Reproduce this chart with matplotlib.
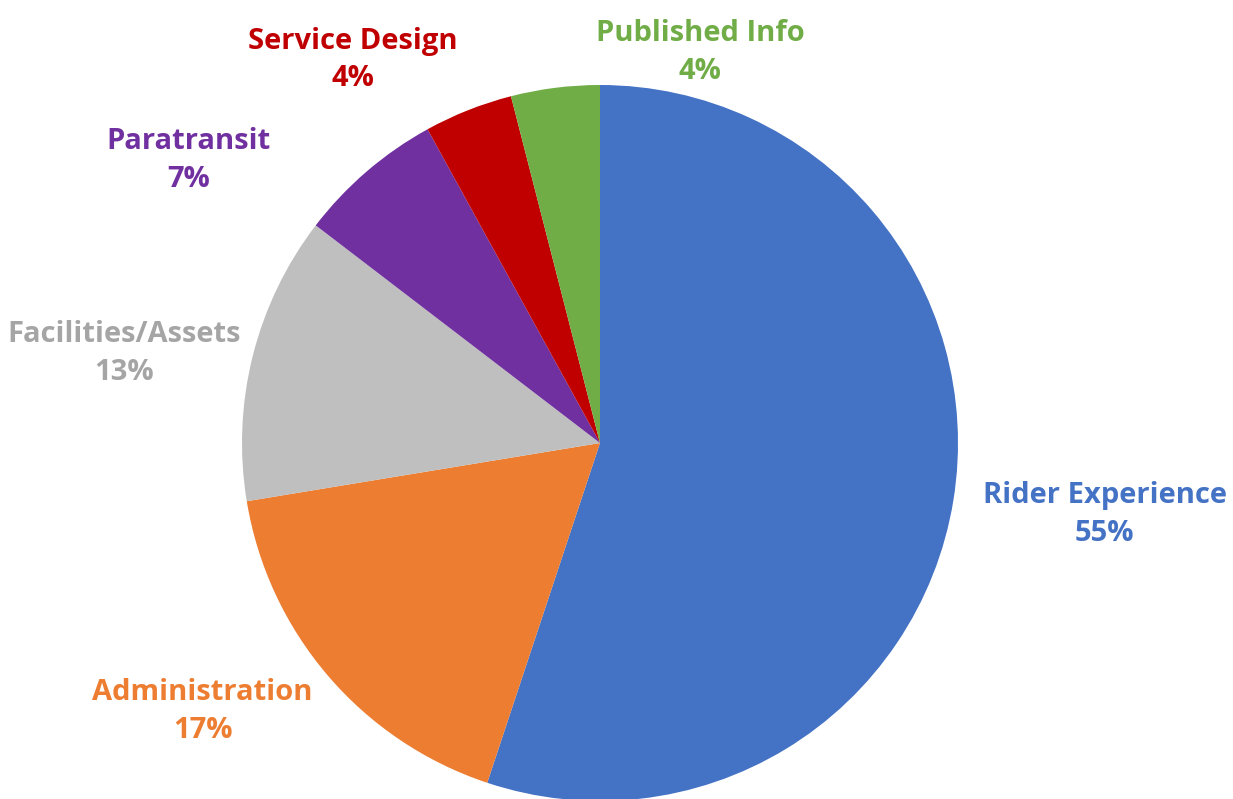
import matplotlib.pyplot as plt
import numpy as np

#-----------------------------
categories = ['Rider Experience', 'Administration', 'Facilities/Assets',
              'Paratransit', 'Service Design', 'Published Info']
shares = [55.1, 17.3, 13.0, 6.6, 4.0, 4.0]
pct_labels = ['55%', '17%', '13%', '7%', '4%', '4%']

slice_colors = ['#4472C4', '#ED7D31', '#BFBFBF', '#7030A0', '#C00000', '#70AD47']
text_colors = ['#4472C4', '#ED7D31', '#A5A5A5', '#7030A0', '#C00000', '#70AD47']
# label centres in pie-radius units (style, not data)
label_pos = [(1.41, -0.20), (-1.11, -0.75), (-1.33, 0.25),
             (-1.15, 0.79), (-0.69, 1.07), (0.28, 1.09)]
myfontsize = 21
#-----------------------------


def draw_chart():
    fig = plt.figure(figsize=(12.33, 7.99), dpi=100)
    ax = fig.add_axes([0, 0, 1, 1])

    ax.pie(shares, colors=slice_colors, startangle=90, counterclock=False,
           radius=1.0, center=(0, 0), wedgeprops=dict(linewidth=0))

    for name, pct, col, (x, y) in zip(categories, pct_labels, text_colors, label_pos):
        ax.text(x, y, name + '\n' + pct, color=col, fontsize=myfontsize,
                fontweight='bold', family='Open Sans', ha='center', va='center',
                linespacing=1.4)

    ax.set_xlim(-600 / 358, (1233 - 600) / 358)
    ax.set_ylim(-(799 - 443) / 358, 443 / 358)
    ax.set_aspect('equal')
    ax.axis('off')

    fig.savefig('out.png', dpi=100)


def main():
    draw_chart()


if __name__ == "__main__":
    main()
